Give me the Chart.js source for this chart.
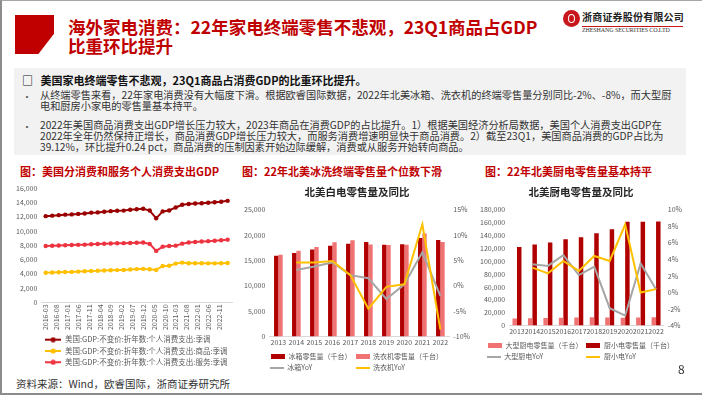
<!DOCTYPE html>
<html>
<head>
<meta charset="utf-8">
<script src="https://cdn.jsdelivr.net/npm/chart.js@4.4.0/dist/chart.umd.min.js"></script>
<style>
body{margin:0;width:702px;height:395px;background:#fff;position:relative;overflow:hidden;font-family:"Noto Sans CJK SC","Noto Sans",sans-serif;color:#333}
.abs{position:absolute}
.frame{left:0;top:0;width:702px;height:395px;box-sizing:border-box;border-left:2px solid #8c8c8c;border-top:1px solid #a6a6a6;border-bottom:2px solid #8c8c8c}
.block{left:15px;top:15px;width:39px;height:39px;background:#c00000;clip-path:polygon(0 0,100% 0,100% 48%,60% 100%,0 100%)}
.title{left:68px;top:17px;font-size:17.5px;font-weight:700;color:#c00000;line-height:19px;white-space:nowrap}
.logo{left:563px;top:10px;width:17px;height:17px;border-radius:50%;background:#c8161d}
.logo i{position:absolute;left:5px;top:4px;width:5px;height:7px;border:1.5px solid #fff;border-radius:50%}
.logotxt{left:582px;top:9px;font-size:10px;font-weight:700;color:#222;letter-spacing:0.2px;white-space:nowrap}
.logoline{left:582px;top:26px;width:101px;height:1px;background:#c8161d}
.logoen{left:582px;top:27px;font-size:6px;font-family:"Liberation Serif",serif;color:#333;white-space:nowrap;letter-spacing:-0.1px}
.box{left:14px;top:68px;width:672px;height:87px;background:#f2f2f2}
.txt{font-size:10.2px;line-height:11px;white-space:nowrap;color:#333}
.head{left:22px;top:72px;font-size:11px;font-weight:700;color:#111;white-space:nowrap}
.mark{left:22px;font-size:10px;color:#555}
.ctitle{top:163px;font-size:11px;font-weight:700;color:#c00000;white-space:nowrap}
.src{left:16px;top:376px;font-size:10.5px;color:#333;white-space:nowrap}
.page{left:678px;top:360px;font-size:12px;color:#333}
</style>
</head>
<body>
<div class="abs frame"></div>
<div class="abs block"></div>
<div class="abs title">海外家电消费：22年家电终端零售不悲观，23Q1商品占GDP<br>比重环比提升</div>
<div class="abs logo"><i></i></div>
<div class="abs logotxt">浙商证券股份有限公司</div>
<div class="abs logoline"></div>
<div class="abs logoen">ZHESHANG SECURITIES CO.LTD</div>

<div class="abs box"></div>
<div class="abs head">□&nbsp;&nbsp;&nbsp;美国家电终端零售不悲观，23Q1商品占消费GDP的比重环比提升。</div>
<div class="abs mark" style="top:89px">•</div>
<div class="abs txt" style="left:40px;top:89px">从终端零售来看，22年家电消费没有大幅度下滑。根据欧睿国际数据，2022年北美冰箱、洗衣机的终端零售量分别同比-2%、-8%，而大型厨<br>电和厨房小家电的零售量基本持平。</div>
<div class="abs mark" style="top:119px">•</div>
<div class="abs txt" style="left:40px;top:119px">2022年美国商品消费支出GDP增长压力较大，2023年商品在消费GDP的占比提升。1）根据美国经济分析局数据，美国个人消费支出GDP在<br>2022年全年仍然保持正增长，商品消费GDP增长压力较大，而服务消费增速明显快于商品消费。2）截至23Q1，美国商品消费的GDP占比为<br>39.12%，环比提升0.24 pct，商品消费的压制因素开始边际缓解，消费或从服务开始转向商品。</div>

<div class="abs ctitle" style="left:20px">图：美国分消费和服务个人消费支出GDP</div>
<div class="abs ctitle" style="left:242px">图：22年北美冰洗终端零售量个位数下滑</div>
<div class="abs ctitle" style="left:485px">图：22年北美厨电零售量基本持平</div>

<div class="abs" style="left:8px;top:180px;width:228px;height:196px"><canvas id="pceChart"></canvas></div>
<div class="abs" style="left:238px;top:182px;width:238px;height:199px"><canvas id="whiteChart"></canvas></div>
<div class="abs" style="left:474px;top:182px;width:214px;height:188px"><canvas id="kitchenChart"></canvas></div>

<div class="abs src">资料来源：Wind，欧睿国际，浙商证券研究所</div>
<div class="abs page">8</div>

<script>
// left chart: US real PCE, quarterly
const quarters = ['2016-03','2016-06','2016-09','2016-12','2017-03','2017-06','2017-09','2017-12',
  '2018-03','2018-06','2018-09','2018-12','2019-03','2019-06','2019-09','2019-12',
  '2020-03','2020-06','2020-09','2020-12','2021-03','2021-06','2021-09','2021-12',
  '2022-03','2022-06','2022-09','2022-12','2023-03'];
const tickLabels = ['2016-03','2016-08','2017-01','2017-06','2017-11','2018-04','2018-09','2019-02',
  '2019-07','2019-12','2020-05','2020-10','2021-03','2021-08','2022-01','2022-06','2022-11'];
const pceTotal = [12080,12150,12220,12290,12330,12400,12460,12570,12610,12700,12780,12830,12860,12970,13060,13110,
  12870,11780,12750,12880,13300,13670,13780,13850,13900,13960,14030,14100,14230];
const pceGoods = [4150,4180,4210,4250,4270,4310,4350,4410,4420,4470,4500,4520,4530,4610,4660,4690,
  4650,4540,5100,5140,5430,5570,5480,5490,5480,5470,5470,5480,5520];
const pceServices = [7900,7940,7970,8010,8030,8060,8090,8140,8170,8210,8250,8280,8300,8330,8360,8390,
  8190,7210,7810,7900,7950,8230,8380,8450,8520,8580,8640,8700,8790];
const pceNames = ['美国:GDP:不变价:折年数:个人消费支出:季调',
  '美国:GDP:不变价:折年数:个人消费支出:商品:季调',
  '美国:GDP:不变价:折年数:个人消费支出:服务:季调'];

// middle chart: North America fridges / washers
const years = ['2013','2014','2015','2016','2017','2018','2019','2020','2021','2022'];
const fridgeSales = [15900,16450,17150,17900,18300,18600,18100,18200,19400,19000];
const washerSales = [16100,16900,17650,18550,18950,18150,18050,18100,20300,18600];
const fridgeYoY = [null,3.1,3.8,4.6,2.1,1.5,-2.6,0.3,6.6,-2.0];
const washerYoY = [null,4.6,4.6,4.9,2.1,-4.5,-0.2,0.3,12.1,-8.6];
const whiteNames = ['冰箱零售量（千台）','洗衣机零售量（千台）','冰箱YoY','洗衣机YoY'];

// right chart: North America kitchen appliances
const largeKitchenSales = [11000,11400,11750,12250,12500,12900,12650,12300,12750,12800];
const smallKitchenSales = [121900,126000,129000,134000,137200,143300,149400,161100,161100,161700];
const largeKitchenYoY = [null,3.4,3.2,4.5,2.1,3.1,-1.9,-2.8,3.5,0.4];
const smallKitchenYoY = [null,3.0,2.3,3.8,2.6,4.4,3.8,8.2,0.0,0.4];
const kitchenNames = ['大型厨电零售量（千台）','厨小电零售量（千台）','大型厨电YoY','厨小电YoY'];

const DARK = '#b00000', LIGHT = '#f07272', GOLD = '#ffc000', GREY = '#a6a6a6';
const TICK = '#595959';

Chart.defaults.font.family = '"Noto Sans CJK SC","Noto Sans",sans-serif';
Chart.defaults.font.size = 7;
Chart.defaults.color = TICK;
Chart.defaults.animation = false;

function swatch(color, kind) {
  const c = document.createElement('canvas');
  const ctx = c.getContext('2d');
  if (kind === 'rect') {
    c.width = 14; c.height = 5;
    ctx.fillStyle = color; ctx.fillRect(0, 0, 14, 5);
  } else if (kind === 'line') {
    c.width = 14; c.height = 2;
    ctx.fillStyle = color; ctx.fillRect(0, 0, 14, 2);
  } else {
    c.width = 16; c.height = 6;
    ctx.fillStyle = color; ctx.fillRect(0, 2, 16, 2);
    ctx.beginPath(); ctx.arc(8, 3, 2.6, 0, Math.PI * 2); ctx.fill();
  }
  return c;
}

// legend items in two columns: pad the second row to the width of the first
function legendWith(kinds, columns) {
  return chart => {
    const items = Chart.defaults.plugins.legend.labels.generateLabels(chart)
      .sort((a, b) => a.datasetIndex - b.datasetIndex)
      .map(item => {
        const ds = chart.data.datasets[item.datasetIndex];
        item.pointStyle = swatch(ds.borderColor, kinds[item.datasetIndex]);
        item.fontColor = TICK;
        return item;
      });
    if (columns) {
      const ctx = chart.ctx;
      ctx.save();
      ctx.font = Chart.helpers.toFont(chart.options.plugins.legend.labels.font).string;
      for (let i = columns; i < items.length; i++) {
        const target = ctx.measureText(items[i - columns].text).width;
        while (ctx.measureText(items[i].text).width < target) items[i].text += ' ';
      }
      ctx.restore();
    }
    return items;
  };
}

function monthIndex(s) {
  const parts = s.split('-').map(Number);
  return parts[0] * 12 + parts[1];
}
const base = monthIndex(quarters[0]);
const toXY = arr => arr.map((v, i) => ({x: monthIndex(quarters[i]) - base, y: v}));

function pceLine(label, values, color) {
  return {
    label: label, data: toXY(values), borderColor: color, backgroundColor: color,
    borderWidth: 2, pointRadius: 2.2, pointBackgroundColor: color, pointBorderWidth: 0, tension: 0
  };
}

new Chart(document.getElementById('pceChart'), {
  type: 'line',
  data: {
    datasets: [
      pceLine(pceNames[0], pceTotal, '#9b0000'),
      pceLine(pceNames[1], pceGoods, GOLD),
      pceLine(pceNames[2], pceServices, '#ee3340')
    ]
  },
  options: {
    responsive: true, maintainAspectRatio: false,
    layout: {padding: {left: 4, right: 4, top: 2, bottom: 0}},
    plugins: {
      legend: {
        position: 'bottom', align: 'start', fullSize: false,
        labels: {usePointStyle: true, pointStyleWidth: 16, font: {size: 7.5}, padding: 3.8,
          generateLabels: legendWith(['dot', 'dot', 'dot'], 0)}
      },
      tooltip: {enabled: false}
    },
    scales: {
      x: {
        type: 'linear', min: -2, max: 86,
        afterBuildTicks: axis => { axis.ticks = tickLabels.map(t => ({value: monthIndex(t) - base})); },
        ticks: {autoSkip: false, minRotation: 90, maxRotation: 90, padding: 2,
          callback: (v, i) => tickLabels[i]},
        grid: {display: false, drawTicks: false},
        border: {color: '#d9d9d9'}
      },
      y: {
        min: 0, max: 16000,
        ticks: {stepSize: 2000, padding: 4},
        grid: {display: false, drawTicks: false},
        border: {display: false}
      }
    }
  }
});

function comboOptions(title, leftMax, leftStep, rightMin, rightMax, rightStep, kinds) {
  return {
    responsive: true, maintainAspectRatio: false,
    layout: {padding: {left: 2, right: 2, top: 0, bottom: 0}},
    plugins: {
      title: {display: true, text: title, color: '#262626', font: {size: 10.5, weight: 'bold'}, padding: {top: 4, bottom: 11}},
      legend: {
        position: 'bottom',
        labels: {usePointStyle: true, pointStyleWidth: 14, font: {size: 7}, padding: 4,
          generateLabels: legendWith(kinds, 2)}
      },
      tooltip: {enabled: false}
    },
    scales: {
      x: {
        ticks: {autoSkip: false, maxRotation: 0, padding: 2},
        grid: {display: false, drawTicks: false},
        border: {color: '#d9d9d9'}
      },
      y: {
        min: 0, max: leftMax,
        ticks: {stepSize: leftStep, padding: 4, callback: v => v.toLocaleString('en-US')},
        grid: {display: false, drawTicks: false},
        border: {display: false}
      },
      y1: {
        position: 'right', min: rightMin, max: rightMax,
        ticks: {stepSize: rightStep, padding: 4, callback: v => v + '%'},
        grid: {display: false, drawTicks: false},
        border: {display: false}
      }
    }
  };
}

function bar(label, values, color, catPct) {
  return {type: 'bar', label: label, data: values, backgroundColor: color, borderColor: color,
    yAxisID: 'y', order: 2, categoryPercentage: catPct, barPercentage: 1};
}
function yoy(label, values, color, order) {
  return {type: 'line', label: label, data: values, borderColor: color, backgroundColor: color,
    yAxisID: 'y1', order: order, borderWidth: 2, pointRadius: 0, tension: 0};
}

new Chart(document.getElementById('whiteChart'), {
  type: 'bar',
  data: {
    labels: years,
    datasets: [
      bar(whiteNames[0], fridgeSales, DARK, 0.48),
      bar(whiteNames[1], washerSales, LIGHT, 0.48),
      yoy(whiteNames[2], fridgeYoY, GREY, 1),
      yoy(whiteNames[3], washerYoY, GOLD, 0)
    ]
  },
  options: comboOptions('北美白电零售量及同比', 25000, 5000, -10, 15, 5, ['rect', 'rect', 'line', 'line'])
});

new Chart(document.getElementById('kitchenChart'), {
  type: 'bar',
  data: {
    labels: years,
    datasets: [
      bar(kitchenNames[0], largeKitchenSales, LIGHT, 0.58),
      bar(kitchenNames[1], smallKitchenSales, DARK, 0.58),
      yoy(kitchenNames[2], largeKitchenYoY, GREY, 1),
      yoy(kitchenNames[3], smallKitchenYoY, GOLD, 0)
    ]
  },
  options: comboOptions('北美厨电零售量及同比', 180000, 20000, -4, 10, 2, ['rect', 'rect', 'line', 'line'])
});
</script>
</body>
</html>
